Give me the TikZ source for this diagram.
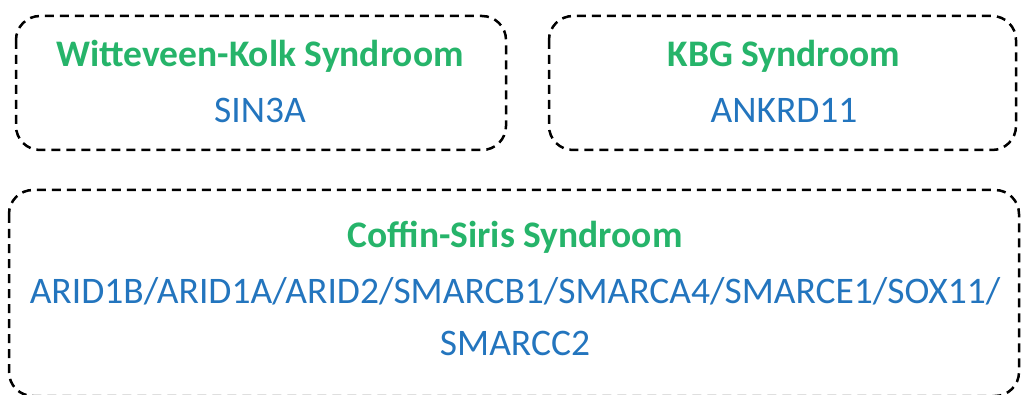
\documentclass[tikz,border=0pt]{standalone}
\usepackage{fontspec}
\setmainfont{Carlito}
\definecolor{sgreen}{RGB}{38,180,106}
\definecolor{gblue}{RGB}{35,117,190}
\begin{document}
\begin{tikzpicture}[x=1pt,y=-1pt,
  panel/.style={draw=black,line width=2.5pt,dash pattern=on 9pt off 6pt,rounded corners=24pt},
  title/.style={text=sgreen,font=\fontsize{37.5}{44}\selectfont\bfseries,anchor=center},
  gene/.style={text=gblue,font=\fontsize{37.5}{44}\selectfont,anchor=center}]
\useasboundingbox (0,0) rectangle (1024,395);
\draw[panel] (16,16) rectangle (506,150);
\draw[panel] (549,16) rectangle (1016,150);
\draw[panel] (9,190) rectangle (1019,396);
\node[title] (wk) at (260,56) {Witteveen-Kolk Syndroom};
\node[gene] (sin) at (260,110) {SIN3A};
\node[title] (kbg) at (784,56) {KBG Syndroom};
\node[gene] (ank) at (784,110) {ANKRD11};
\node[title] (cs) at (515,237) {Coffin-Siris Syndroom};
\node[gene] (g1) at (515,291) {ARID1B/ARID1A/ARID2/SMARCB1/SMARCA4/SMARCE1/SOX11/};
\node[gene] (g2) at (515,343) {SMARCC2};
\end{tikzpicture}
\end{document}
